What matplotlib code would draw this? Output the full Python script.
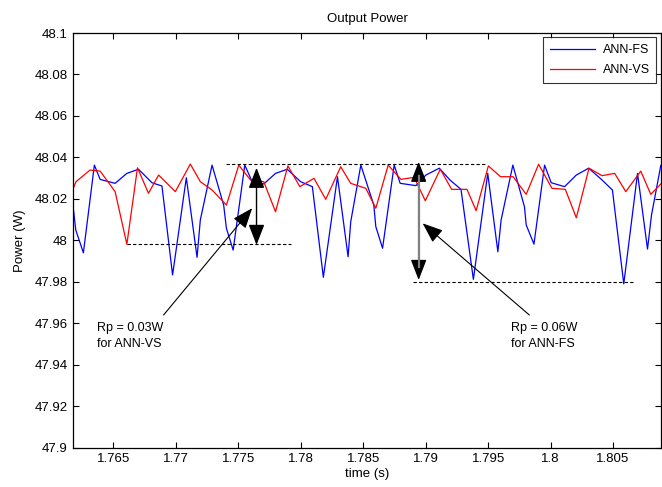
import matplotlib.pyplot as plt
from matplotlib.ticker import FuncFormatter

plt.rcParams['font.family'] = ['Liberation Sans', 'DejaVu Sans']

# ANN-FS (blue) samples
fs_time = [1.76179, 1.76199, 1.76260, 1.76348, 1.76394, 1.76514, 1.76608, 1.76701, 1.76809, 1.76889,
           1.76974, 1.77084, 1.77170, 1.77196, 1.77290, 1.77383, 1.77405, 1.77459, 1.77552, 1.77611,
           1.77704, 1.77798, 1.77892, 1.77999, 1.78093, 1.78181, 1.78294, 1.78379, 1.78400, 1.78481,
           1.78585, 1.78601, 1.78655, 1.78748, 1.78796, 1.78922, 1.79002, 1.79109, 1.79195, 1.79283,
           1.79382, 1.79497, 1.79578, 1.79604, 1.79698, 1.79791, 1.79805, 1.79867, 1.79952, 1.80005,
           1.80112, 1.80206, 1.80305, 1.80407, 1.80495, 1.80586, 1.80696, 1.80776, 1.80808, 1.80883,
           1.80904]
fs_power = [48.0156, 48.0050, 47.9940, 48.0363, 48.0294, 48.0275, 48.0323, 48.0343, 48.0278, 48.0262,
            47.9833, 48.0302, 47.9918, 48.0098, 48.0363, 48.0170, 48.0058, 47.9953, 48.0363, 48.0283,
            48.0272, 48.0323, 48.0343, 48.0283, 48.0259, 47.9822, 48.0307, 47.9921, 48.0089, 48.0363,
            48.0170, 48.0066, 47.9962, 48.0363, 48.0275, 48.0264, 48.0315, 48.0348, 48.0291, 48.0246,
            47.9812, 48.0323, 47.9945, 48.0098, 48.0363, 48.0162, 48.0074, 47.9982, 48.0363, 48.0278,
            48.0259, 48.0315, 48.0348, 48.0294, 48.0243, 47.9790, 48.0323, 47.9958, 48.0122, 48.0363,
            48.0334]

# ANN-VS (red)
vs_time = [1.76179, 1.76201, 1.76313, 1.76394, 1.76514, 1.76608, 1.76693, 1.76781, 1.76862, 1.76996,
           1.77116, 1.77196, 1.77290, 1.77405, 1.77504, 1.77598, 1.77704, 1.77798, 1.77897, 1.77993,
           1.78106, 1.78200, 1.78320, 1.78400, 1.78521, 1.78601, 1.78700, 1.78802, 1.78908, 1.78997,
           1.79117, 1.79208, 1.79331, 1.79404, 1.79502, 1.79599, 1.79700, 1.79805, 1.79904, 1.80011,
           1.80118, 1.80206, 1.80308, 1.80412, 1.80513, 1.80602, 1.80722, 1.80802, 1.80888, 1.80912]
vs_power = [48.0251, 48.0283, 48.0339, 48.0334, 48.0235, 47.9981, 48.0350, 48.0227, 48.0315, 48.0235,
            48.0368, 48.0283, 48.0243, 48.0170, 48.0363, 48.0291, 48.0283, 48.0138, 48.0359, 48.0259,
            48.0299, 48.0198, 48.0355, 48.0275, 48.0251, 48.0155, 48.0363, 48.0294, 48.0304, 48.0191,
            48.0343, 48.0246, 48.0246, 48.0143, 48.0359, 48.0307, 48.0307, 48.0222, 48.0367, 48.0251,
            48.0246, 48.0109, 48.0348, 48.0312, 48.0323, 48.0235, 48.0334, 48.0222, 48.0275, 48.0162]

x_ticks = [1.765, 1.77, 1.775, 1.78, 1.785, 1.79, 1.795, 1.8, 1.805]
y_ticks = [47.9, 47.92, 47.94, 47.96, 47.98, 48.0, 48.02, 48.04, 48.06, 48.08, 48.1]

fig = plt.figure(figsize=(6.62, 4.87), dpi=100)
ax = fig.add_axes([0.1103, 0.0807, 0.888, 0.8515])

ax.plot(fs_time, fs_power, color='blue', lw=0.9, label='ANN-FS')
ax.plot(vs_time, vs_power, color='red', lw=0.9, label='ANN-VS')

ax.set_xlim(1.76177, 1.80883)
ax.set_ylim(47.9, 48.1)
ax.set_xticks(x_ticks)
ax.set_yticks(y_ticks)
ax.xaxis.set_major_formatter(FuncFormatter(lambda v, p: f'{v:g}'))
ax.yaxis.set_major_formatter(FuncFormatter(lambda v, p: f'{v:g}'))
ax.tick_params(direction='in', top=True, right=True, length=4, width=0.8, labelsize=9.5, pad=4)
for s in ax.spines.values():
    s.set_linewidth(0.9)

ax.set_title('Output Power', fontsize=9.5, pad=8)
ax.set_xlabel('time (s)', fontsize=9.5, labelpad=2)
ax.set_ylabel('Power (W)', fontsize=9.5, labelpad=6)

# dashed reference levels
dash = dict(color='black', lw=0.8, linestyle=(0, (3, 2)))
ax.plot([1.7661, 1.7792], [47.9981, 47.9981], **dash)
ax.plot([1.7740, 1.7948], [48.0367, 48.0367], **dash)
ax.plot([1.7890, 1.8066], [47.9800, 47.9800], **dash)

head = '<|-|>,head_length=0.9,head_width=0.35'
ax.annotate('', xy=(1.77646, 48.0350), xytext=(1.77646, 47.9978),
            arrowprops=dict(arrowstyle=head, color='black', lw=1.0, mutation_scale=14,
                            shrinkA=0, shrinkB=0))
ax.annotate('', xy=(1.78944, 48.0379), xytext=(1.78944, 47.9809),
            arrowprops=dict(arrowstyle=head, color='black', lw=1.0, mutation_scale=14,
                            shrinkA=0, shrinkB=0))
ax.plot([1.78944, 1.78944], [48.031, 47.987], color='gray', lw=1.6, zorder=5)

one = '-|>,head_length=0.9,head_width=0.35'
ax.annotate('', xy=(1.77611, 48.0155), xytext=(1.76902, 47.9640),
            arrowprops=dict(arrowstyle=one, color='black', lw=0.8, mutation_scale=14,
                            shrinkA=0, shrinkB=0))
ax.annotate('', xy=(1.78976, 48.0082), xytext=(1.79830, 47.9640),
            arrowprops=dict(arrowstyle=one, color='black', lw=0.8, mutation_scale=14,
                            shrinkA=0, shrinkB=0))

ax.text(1.76371, 47.9539, 'Rp = 0.03W\nfor ANN-VS', fontsize=9, va='center', linespacing=1.45)
ax.text(1.79680, 47.9539, 'Rp = 0.06W\nfor ANN-FS', fontsize=9, va='center', linespacing=1.45)

leg = ax.legend(loc='upper right', fontsize=9, frameon=True, fancybox=False,
                edgecolor='black', borderpad=0.55, handlelength=3.6, handletextpad=0.6,
                labelspacing=0.65, borderaxespad=0.35)
leg.get_frame().set_linewidth(0.8)

fig.savefig('out.png', dpi=100)
